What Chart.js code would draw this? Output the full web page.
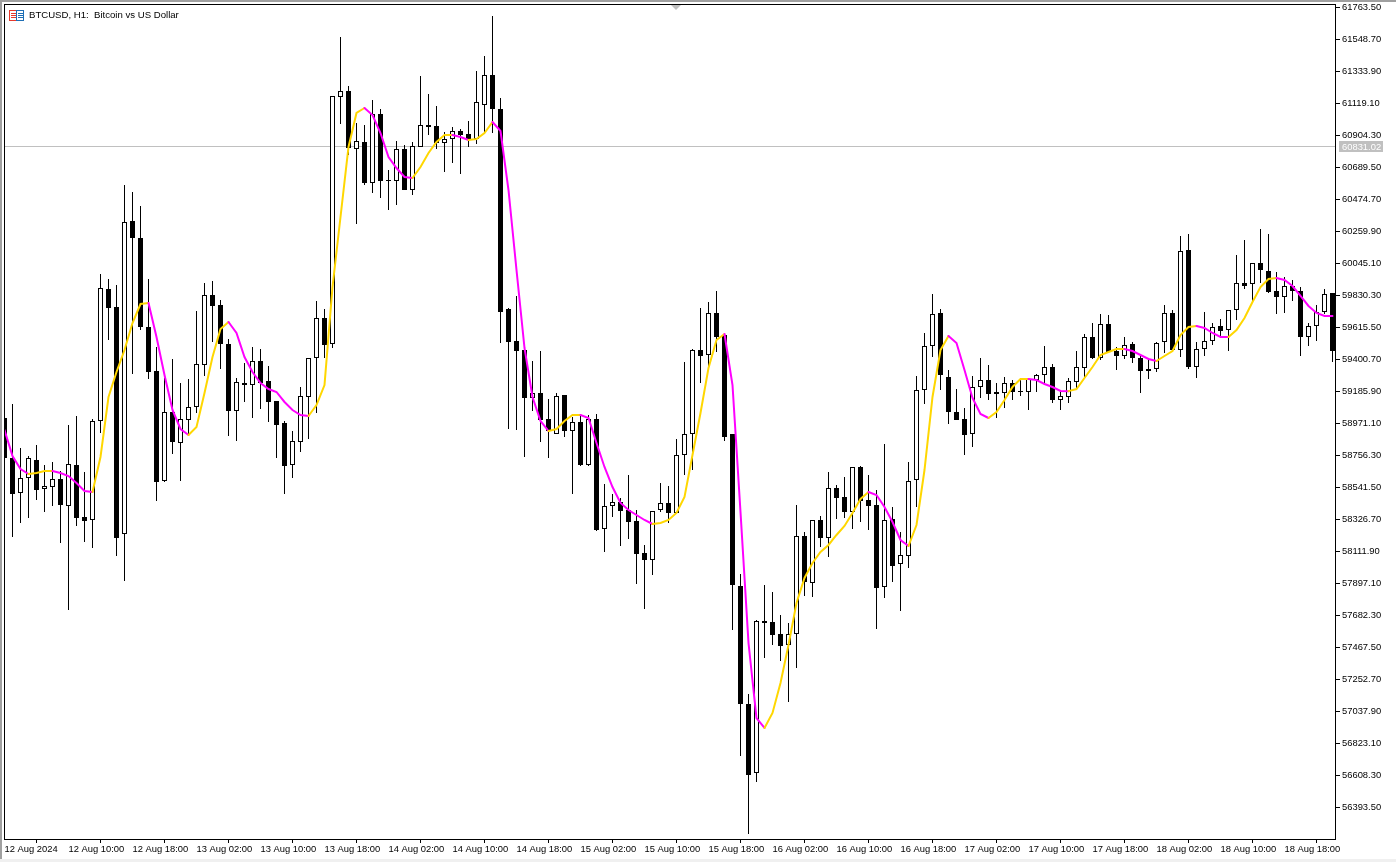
<!DOCTYPE html>
<html>
<head>
<meta charset="utf-8">
<title>BTCUSD, H1</title>
<script src="https://cdn.jsdelivr.net/npm/chart.js@4"></script>
<style>
  html, body { margin: 0; padding: 0; background: #fff; width: 1396px; height: 862px; overflow: hidden; }
  canvas { position: absolute; left: 0; top: 0; }
  .band { position: absolute; }
  #chart-title { position: absolute; left: 29px; top: 9px; font: 9.6px "Liberation Sans", sans-serif; color: #000; white-space: pre; }
  #chart-icon { position: absolute; left: 9px; top: 10px; }
  #shift-mark { position: absolute; left: 671px; top: 5px; width: 0; height: 0; border-left: 5px solid transparent; border-right: 5px solid transparent; border-top: 5px solid #c0c0c0; }
</style>
</head>
<body>
<canvas id="chart" width="1396" height="862"></canvas>
<div class="band" style="left:0;top:0;width:1396px;height:2px;background:#a0a0a0"></div>
<div class="band" style="left:0;top:0;width:2px;height:862px;background:#a0a0a0"></div>
<div class="band" style="left:0;top:859px;width:1396px;height:3px;background:#f0f0f0"></div>
<svg id="chart-icon" width="15" height="11" viewBox="0 0 15 11">
  <rect x="0.5" y="0.5" width="7" height="10" fill="#fff" stroke="#e8392c"/>
  <rect x="7.5" y="0.5" width="7" height="10" fill="#fff" stroke="#1f6fb5"/>
  <path d="M2 3.5H7M2 5.5H7M2 7.5H7" stroke="#e8392c"/>
  <path d="M9 3.5H14M9 5.5H14M9 7.5H14" stroke="#1f6fb5"/>
</svg>
<div id="chart-title">BTCUSD, H1:  Bitcoin vs US Dollar</div>
<div id="shift-mark"></div>

<script>
const opens = [59004.7,58736.2,58501.3,58601.9,58722.8,58528.1,58541.5,58595.2,58414.0,58689.2,58340.1,58320.0,58984.6,59870.6,59749.8,58226.0,60327.1,60212.9,59615.5,59320.2,
  58581.8,59045.0,58836.9,58991.3,59078.5,59360.4,59830.3,59763.2,59501.4,59051.7,59239.7,59226.2,59387.3,59253.1,59118.8,58971.2,58689.2,58843.6,59145.6,59407.4,
  59675.9,59501.4,61159.4,61199.7,60810.4,60857.4,60582.2,61045.2,60602.3,60595.6,60810.4,60535.1,60823.6,60971.4,60964.7,60850.6,60877.5,60931.2,60911.0,60877.5,
  61105.7,61307.0,61078.9,59736.4,59521.6,59461.1,59138.9,59172.5,58998.0,58897.2,59159.0,58917.4,58977.9,58689.2,58998.0,58259.6,58414.0,58440.9,58387.1,58313.3,
  58098.5,58051.5,58387.1,58434.2,58367.0,58756.3,58897.2,59461.1,59427.5,59709.5,59561.8,58897.2,57877.0,57084.9,56621.7,57642.1,57635.4,57554.7,57480.9,57554.7,
  58212.6,57897.2,58320.0,58199.2,58534.8,58474.4,58373.7,58675.8,58454.3,58420.7,57870.3,58326.7,58024.6,58078.3,58588.5,59192.6,59488.0,59709.5,59279.9,59045.0,
  58998.0,58897.2,59212.8,59259.8,59179.2,59172.5,59239.7,59185.9,59179.2,59259.8,59293.3,59347.0,59125.5,59145.6,59246.4,59340.3,59548.4,59407.4,59635.6,59454.4,
  59420.8,59501.4,59407.4,59333.6,59333.6,59514.9,59709.5,59461.1,60132.4,59347.0,59467.9,59521.6,59622.2,59595.4,59729.6,59910.9,59904.2,60045.2,59991.4,59857.2,
  59816.9,59890.7,59857.2,59548.4,59622.2,59716.2,59843.8];
const highs = [59004.7,59098.6,58803.3,58749.6,58823.4,58689.2,58709.4,58648.9,58957.7,59018.1,58642.2,58998.0,59971.2,59937.7,59897.4,60568.7,60521.7,60427.7,59937.7,59481.3,
  59273.2,59400.7,59239.7,59266.5,59722.9,59910.9,59924.3,59796.8,59535.0,59273.2,59373.9,59481.3,59467.9,59353.7,59118.8,58984.6,58917.4,59212.8,59407.4,59790.1,
  59736.4,61166.1,61562.1,61233.2,60984.9,60971.4,61139.3,61078.9,60669.4,60864.1,60837.2,60857.4,61300.3,61179.5,61099.0,60924.5,60958.0,60944.6,60998.3,61333.9,
  61434.7,61703.1,61152.7,59743.1,59823.6,59467.9,59387.3,59454.4,59132.2,59172.5,59159.0,59011.4,59018.1,59024.8,59031.5,58561.6,58494.5,58467.7,58622.0,58387.1,
  58152.2,58380.4,58568.4,58548.2,58863.7,59380.6,59467.9,59743.1,59783.4,59857.2,59568.5,58897.2,57957.5,57152.0,57648.8,57883.7,57836.7,57682.3,57628.7,58420.7,
  58239.5,58320.0,58346.8,58642.2,58554.9,58608.6,58675.8,58682.5,58622.0,58521.4,58830.1,58407.3,58239.5,58709.4,59286.6,59575.3,59837.0,59736.4,59326.9,59199.3,
  59071.8,59286.6,59407.4,59360.4,59239.7,59279.9,59259.8,59259.8,59266.5,59300.0,59488.0,59367.1,59179.2,59273.2,59454.4,59568.5,59642.4,59702.8,59696.0,59481.3,
  59548.4,59514.9,59427.5,59407.4,59514.9,59763.2,59729.6,60226.3,60239.7,59514.9,59716.2,59642.4,59669.2,59729.6,60098.8,60199.5,60045.2,60273.4,60239.7,59984.7,
  59951.2,59931.0,59884.0,59642.4,59763.2,59870.6,59843.8];
const lows = [58736.2,58205.9,58299.9,58333.4,58454.3,58373.7,58414.0,58165.7,57715.9,58279.7,58172.4,58132.1,58904.0,59528.3,58078.3,57910.6,59300.0,59595.4,59266.5,58447.6,
  58575.1,58763.0,58581.8,58890.5,59038.3,59286.6,59514.9,59333.6,58883.8,58850.3,59112.1,59004.7,59065.1,58977.9,58736.2,58494.5,58601.9,58776.5,58863.7,59038.3,
  59407.4,59474.6,60978.1,60770.0,60306.9,60568.7,60515.0,60481.4,60400.9,60434.4,60535.1,60501.5,60823.6,60904.3,60810.4,60656.0,60716.4,60642.5,60823.6,60843.9,
  60917.0,60917.0,59508.2,58930.9,58924.1,58742.9,59051.7,58843.6,58736.2,58897.2,58877.1,58494.5,58682.5,58682.5,58246.2,58105.2,58340.1,58145.5,58192.5,57890.4,
  57722.6,57950.8,58373.7,58299.9,58360.3,58622.0,58655.6,59239.7,59340.3,59447.7,58850.3,57581.6,56735.8,56212.2,56561.4,57393.7,57480.9,57373.6,57098.4,57326.6,
  57810.0,57803.1,58138.8,58071.6,58326.7,58333.4,58259.6,58306.6,58252.9,57588.3,57796.3,57903.9,57709.2,57997.8,58407.3,59098.6,59414.1,59192.6,58964.4,58991.3,
  58756.3,58810.0,59138.9,59125.5,59004.7,59071.8,59125.5,59152.3,59058.4,59179.2,59239.7,59105.4,59058.4,59105.4,59192.6,59273.2,59400.7,59394.0,59441.0,59326.9,
  59400.7,59373.9,59172.5,59266.5,59313.5,59441.0,59454.4,59414.1,59333.6,59273.2,59420.8,59494.7,59541.7,59454.4,59662.5,59870.6,59783.4,59910.9,59843.8,59702.8,
  59709.5,59790.1,59420.8,59488.0,59521.6,59702.8,59380.6];
const closes = [58736.2,58494.5,58601.9,58736.2,58521.4,58548.2,58595.2,58420.7,58695.9,58333.4,58313.3,58984.6,59877.3,59743.1,58199.2,60320.4,60212.9,59615.5,59313.5,58575.1,
  59045.0,58843.6,58998.0,59078.5,59367.1,59830.3,59756.5,59501.4,59051.7,59246.4,59226.2,59387.3,59239.7,59112.1,58957.7,58682.5,58850.3,59152.3,59407.4,59675.9,
  59494.7,61166.1,61199.7,60817.1,60864.1,60582.2,61045.2,60595.6,60595.6,60810.4,60535.1,60830.3,60971.4,60958.0,60850.6,60877.5,60931.2,60904.3,60870.8,61125.9,
  61307.0,61078.9,59716.2,59514.9,59454.4,59138.9,59172.5,58991.3,58917.4,59152.3,58917.4,58977.9,58689.2,58998.0,58252.9,58414.0,58440.9,58380.4,58306.6,58091.7,
  58051.5,58380.4,58434.2,58367.0,58756.3,58897.2,59461.1,59420.8,59709.5,59548.4,58877.1,57883.7,57084.9,56608.3,57642.1,57628.7,57548.0,57474.2,57554.7,58212.6,
  57903.9,58320.0,58199.2,58534.8,58467.7,58373.7,58675.8,58447.6,58414.0,57863.5,58320.0,58011.2,58085.0,58581.8,59192.6,59488.0,59702.8,59293.3,59045.0,58991.3,
  58890.5,59212.8,59259.8,59165.8,59165.8,59239.7,59179.2,59179.2,59266.5,59293.3,59347.0,59125.5,59152.3,59253.1,59347.0,59548.4,59407.4,59635.6,59447.7,59420.8,
  59494.7,59407.4,59320.2,59320.2,59508.2,59709.5,59461.1,60125.7,59347.0,59467.9,59521.6,59615.5,59588.7,59729.6,59910.9,59890.7,60045.2,59998.1,59850.5,59816.9,
  59890.7,59857.2,59548.4,59622.2,59716.2,59837.0,59454.4];
const maValues = [58924.1,58749.6,58662.4,58628.7,58635.5,58648.9,58648.9,58635.5,58615.3,58568.4,58514.7,58508.0,58742.9,59145.6,59313.5,59461.1,59642.4,59769.9,59776.7,59548.4,
  59293.3,59058.4,58930.9,58890.5,58944.3,59172.5,59414.1,59602.1,59649.1,59575.3,59414.1,59313.5,59239.7,59199.3,59179.2,59112.1,59058.4,59024.8,59018.1,59091.9,
  59226.2,59884.0,60353.9,60823.8,61052.0,61085.6,61038.5,60917.8,60756.6,60682.8,60622.4,60615.7,60689.5,60783.5,60857.4,60904.3,60904.3,60890.9,60870.8,60877.5,
  60917.8,60991.6,60931.2,60535.1,59998.1,59474.6,59145.6,58984.6,58917.4,58930.9,58984.6,59024.8,59024.8,59004.7,58836.9,58675.8,58541.5,58434.2,58387.1,58353.5,
  58320.0,58293.1,58299.9,58320.0,58367.0,58474.4,58756.3,59038.3,59340.3,59528.3,59568.5,59226.2,58373.7,57494.4,56990.9,56923.8,57024.5,57225.9,57480.9,57762.9,
  57930.7,58031.4,58105.2,58152.2,58219.3,58279.7,58367.0,58461.0,58508.0,58487.8,58407.3,58306.6,58185.8,58145.5,58286.4,58655.6,59145.6,59461.1,59555.1,59508.2,
  59326.9,59138.9,59031.5,59004.7,59045.0,59125.5,59212.8,59266.5,59266.5,59259.8,59232.9,59212.8,59185.9,59185.0,59199.3,59273.2,59347.0,59427.5,59447.7,59467.9,
  59467.9,59454.4,59427.5,59400.7,59387.3,59420.8,59454.4,59561.8,59615.5,59622.2,59608.8,59575.3,59548.4,59548.0,59595.4,59675.9,59783.4,59884.0,59937.7,59944.3,
  59931.0,59890.7,59823.6,59756.5,59709.5,59689.4,59689.0];
const priceTicks = [61763.5,61548.7,61333.9,61119.1,60904.3,60689.5,60474.7,60259.9,60045.1,59830.3,59615.5,59400.7,59185.9,
  58971.1,58756.3,58541.5,58326.7,58111.9,57897.1,57682.3,57467.5,57252.7,57037.9,56823.1,56608.3,56393.5];
const timeTickBars = [0,8,16,24,32,40,48,56,64,72,80,88,96,104,112,120,128,136,144,152,160];
const timeTickLabels = ['12 Aug 2024','12 Aug 10:00','12 Aug 18:00','13 Aug 02:00','13 Aug 10:00','13 Aug 18:00','14 Aug 02:00','14 Aug 10:00',
  '14 Aug 18:00','15 Aug 02:00','15 Aug 10:00','15 Aug 18:00','16 Aug 02:00','16 Aug 10:00','16 Aug 18:00','17 Aug 02:00','17 Aug 10:00',
  '17 Aug 18:00','18 Aug 02:00','18 Aug 10:00','18 Aug 18:00'];
const currentPrice = 60831.02;

const AXIS_FONT = { family: '"Liberation Sans", sans-serif', size: 9.4 };
const LINE_GOLD = '#ffd700';
const LINE_MAGENTA = '#ff00ff';
const PRICE_LINE = '#c0c0c0';

// current price line under the candles, frame and price tag on top
const framePlugin = {
  id: 'frame',
  beforeDatasetsDraw(chart) {
    const { ctx, chartArea: a, scales } = chart;
    const y = Math.round(scales.y.getPixelForValue(currentPrice));
    ctx.save();
    ctx.fillStyle = PRICE_LINE;
    ctx.fillRect(a.left, y, a.right - a.left, 1);
    ctx.restore();
  },
  afterDraw(chart) {
    const { ctx, chartArea: a, scales } = chart;
    ctx.save();
    ctx.strokeStyle = '#000';
    ctx.lineWidth = 1;
    ctx.strokeRect(a.left + 0.5, a.top + 0.5, a.right - a.left - 1, a.bottom - a.top);
    const y = Math.round(scales.y.getPixelForValue(currentPrice));
    ctx.fillStyle = PRICE_LINE;
    ctx.fillRect(1339, y - 5, 44, 11);
    ctx.fillStyle = '#fff';
    ctx.font = '9.4px "Liberation Sans", sans-serif';
    ctx.textBaseline = 'middle';
    ctx.fillText(currentPrice.toFixed(2), 1342, y + 1);
    ctx.restore();
  }
};

new Chart(document.getElementById('chart'), {
  type: 'bar',
  plugins: [framePlugin],
  data: {
    datasets: [
      {
        type: 'line',
        order: 0,
        data: maValues.map((v, i) => ({ x: i, y: v })),
        borderWidth: 2,
        borderColor: LINE_GOLD,
        borderCapStyle: 'round',
        pointRadius: 0,
        tension: 0,
        segment: { borderColor: c => (c.p1.parsed.y < c.p0.parsed.y ? LINE_MAGENTA : LINE_GOLD) }
      },
      {
        order: 1,
        grouped: false,
        data: opens.map((o, i) => ({ x: i, y: [o, closes[i]] })),
        barThickness: 5,
        backgroundColor: opens.map((o, i) => (closes[i] < o ? '#000' : '#fff')),
        borderColor: '#000',
        borderWidth: 1,
        borderSkipped: false,
        inflateAmount: 0
      },
      {
        order: 2,
        grouped: false,
        data: lows.map((l, i) => ({ x: i, y: [l, highs[i]] })),
        barThickness: 1,
        backgroundColor: '#000',
        borderWidth: 0,
        inflateAmount: 0
      }
    ]
  },
  options: {
    responsive: false,
    animation: false,
    devicePixelRatio: 1,
    layout: { autoPadding: false, padding: { top: 4, left: 4, right: 0, bottom: 0 } },
    plugins: { legend: { display: false }, tooltip: { enabled: false } },
    scales: {
      x: {
        type: 'linear',
        offset: false,
        min: -0.0625,
        max: 166.4375,
        afterFit: s => { s.height = 23; s.paddingLeft = 0; s.paddingRight = 0; },
        afterBuildTicks: s => { s.ticks = timeTickBars.map(value => ({ value })); },
        grid: { drawOnChartArea: false, tickLength: 4, tickColor: '#000' },
        border: { display: false },
        ticks: {
          autoSkip: false,
          maxRotation: 0,
          align: 'start',
          padding: 1,
          color: '#000',
          font: AXIS_FONT,
          callback: v => timeTickLabels[timeTickBars.indexOf(v)]
        }
      },
      y: {
        position: 'right',
        min: 56178.7,
        max: 61783.64,
        afterFit: s => { s.width = 60; s.paddingTop = 0; s.paddingBottom = 0; },
        afterBuildTicks: s => { s.ticks = priceTicks.map(value => ({ value })); },
        grid: { drawOnChartArea: false, tickLength: 4, tickColor: '#000' },
        border: { display: false },
        ticks: {
          autoSkip: false,
          padding: 2,
          color: '#000',
          font: AXIS_FONT,
          callback: v => v.toFixed(2)
        }
      }
    }
  }
});
</script>
</body>
</html>
